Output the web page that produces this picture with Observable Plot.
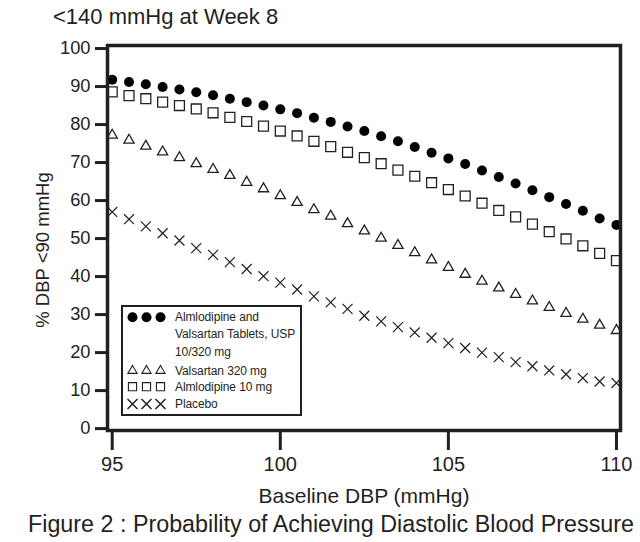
<!DOCTYPE html>
<html><head><meta charset="utf-8">
<script src="https://cdn.jsdelivr.net/npm/d3@7"></script>
<script src="https://cdn.jsdelivr.net/npm/@observablehq/plot@0.6"></script>
<style>
body{margin:0;background:#fff;font-family:"Liberation Sans",Arial,sans-serif;color:#231f20;}
#wrap{position:relative;width:640px;height:542px;overflow:hidden;background:#fff}
#title{position:absolute;left:53px;top:4px;font-size:22px;white-space:nowrap;line-height:26px}
#chart{position:absolute;left:0;top:36px}
#caption{position:absolute;left:28px;top:510px;font-size:23.3px;white-space:nowrap;line-height:28px}
#legend{position:absolute;left:121px;top:305px;width:177px;height:107px;border:2px solid #231f20;background:#fff;font-size:12px}
#legend .t{position:absolute;left:52px;white-space:nowrap;line-height:14px;letter-spacing:-0.1px}
#legend svg{position:absolute;left:0;top:0}
</style></head>
<body>
<div id="wrap">
<div id="title">&lt;140 mmHg at Week 8</div>
<div id="chart"></div>
<div id="legend"></div>
<div id="caption">Figure 2 : Probability of Achieving Diastolic Blood Pressure</div>
</div>
<script>
const baseline = [95, 95.5, 96, 96.5, 97, 97.5, 98, 98.5, 99, 99.5, 100, 100.5, 101, 101.5, 102, 102.5, 103, 103.5, 104, 104.5, 105, 105.5, 106, 106.5, 107, 107.5, 108, 108.5, 109, 109.5, 110];
const combo = [91.8, 91.2, 90.6, 89.9, 89.2, 88.5, 87.7, 86.8, 85.9, 85.0, 84.0, 83.0, 81.8, 80.7, 79.5, 78.3, 76.9, 75.6, 74.1, 72.6, 71.1, 69.6, 67.9, 66.2, 64.5, 62.7, 60.9, 59.1, 57.3, 55.3, 53.6];
const valsartan = [77.2, 75.9, 74.3, 72.8, 71.3, 69.7, 68.2, 66.6, 64.8, 63.1, 61.3, 59.5, 57.6, 55.9, 53.9, 52.0, 50.1, 48.2, 46.3, 44.4, 42.4, 40.6, 38.8, 37.0, 35.3, 33.6, 31.9, 30.3, 28.8, 27.2, 25.8];
const amlodipine = [88.6, 87.6, 86.8, 85.9, 85.0, 84.1, 83.1, 81.9, 80.8, 79.6, 78.3, 77.0, 75.6, 74.2, 72.7, 71.3, 69.7, 68.0, 66.4, 64.7, 62.9, 61.2, 59.3, 57.4, 55.7, 53.8, 51.8, 49.9, 48.1, 46.1, 44.2];
const placebo = [57.0, 55.1, 53.2, 51.4, 49.5, 47.5, 45.7, 43.8, 42.0, 40.1, 38.4, 36.6, 34.8, 33.2, 31.5, 29.7, 28.2, 26.7, 25.3, 23.9, 22.5, 21.2, 20.0, 18.8, 17.5, 16.4, 15.3, 14.3, 13.3, 12.4, 12.0];
const xTicks = [95, 100, 105, 110];
const yTicks = [0, 10, 20, 30, 40, 50, 60, 70, 80, 90, 100];
const legendLines = ["Almlodipine and", "Valsartan Tablets, USP", "10/320 mg", "Valsartan 320 mg", "Almlodipine 10 mg", "Placebo"];

const ink = "#231f20";
const rows = (vals) => baseline.map((x, i) => ({x, y: vals[i]}));

const plot = Plot.plot({
  width: 640, height: 484,
  marginLeft: 107, marginRight: 20, marginTop: 9, marginBottom: 90,
  style: {fontFamily: '"Liberation Sans", Arial, sans-serif', color: ink, background: "transparent", overflow: "visible"},
  x: {domain: [94.86, 110.12]},
  y: {domain: [-0.5, 100.8]},
  marks: [
    Plot.dot(rows(placebo), {x: "x", y: "y", symbol: "times", r: 4.6, stroke: ink, strokeWidth: 1.2, clip: true}),
    Plot.dot(rows(valsartan), {x: "x", y: "y", symbol: "triangle", r: 3.8, stroke: ink, strokeWidth: 1.3, clip: true}),
    Plot.dot(rows(amlodipine), {x: "x", y: "y", symbol: "square", r: 5.6, stroke: ink, strokeWidth: 1.3, fill: "none", clip: true}),
    Plot.dot(rows(combo), {x: "x", y: "y", symbol: "circle", r: 5, fill: "#000", stroke: "none", clip: true}),
    Plot.axisY(yTicks, {tickSize: 12, tickPadding: 5, strokeWidth: 3, stroke: ink, fill: ink, fontSize: 18.3, label: null}),
    Plot.axisX(xTicks, {tickSize: 20, tickPadding: 6, strokeWidth: 3, stroke: ink, fill: ink, fontSize: 20, label: null}),
    Plot.frame({stroke: ink, strokeWidth: 3.5}),
    Plot.text(["Baseline DBP (mmHg)"], {frameAnchor: "bottom", dy: 66, lineAnchor: "middle", fontSize: 21, fill: ink}),
    Plot.text(["% DBP <90 mmHg"], {frameAnchor: "left", dx: -64, dy: 12, rotate: -90, textAnchor: "middle", lineAnchor: "middle", fontSize: 18.5, fill: ink})
  ]
});
document.getElementById("chart").appendChild(plot);

// legend
const leg = document.getElementById("legend");
const lineY = [10.3, 27, 44.7, 63.7, 79.7, 97];
legendLines.forEach((t, i) => {
  const d = document.createElement("div");
  d.className = "t";
  d.textContent = t;
  d.style.top = (lineY[i] - 7) + "px";
  leg.appendChild(d);
});
const svg = d3.select(leg).append("svg").attr("width", 177).attr("height", 107);
const symX = [9.5, 23.5, 37.5];
const legSyms = [
  {sym: d3.symbolCircle, r: 5, y: lineY[0], fill: "#000", stroke: "none", sw: 0},
  {sym: d3.symbolTriangle, r: 3.4, y: lineY[3], fill: "none", stroke: ink, sw: 1.1},
  {sym: d3.symbolSquare, r: 4.6, y: lineY[4], fill: "none", stroke: ink, sw: 1.1},
  {sym: d3.symbolTimes, r: 4.6, y: lineY[5], fill: "none", stroke: ink, sw: 1.5}
];
legSyms.forEach(s => {
  symX.forEach(x => {
    svg.append("path")
      .attr("d", d3.symbol(s.sym, Math.PI * s.r * s.r)())
      .attr("transform", `translate(${x},${s.y})`)
      .attr("fill", s.fill).attr("stroke", s.stroke).attr("stroke-width", s.sw);
  });
});
</script>
</body></html>
